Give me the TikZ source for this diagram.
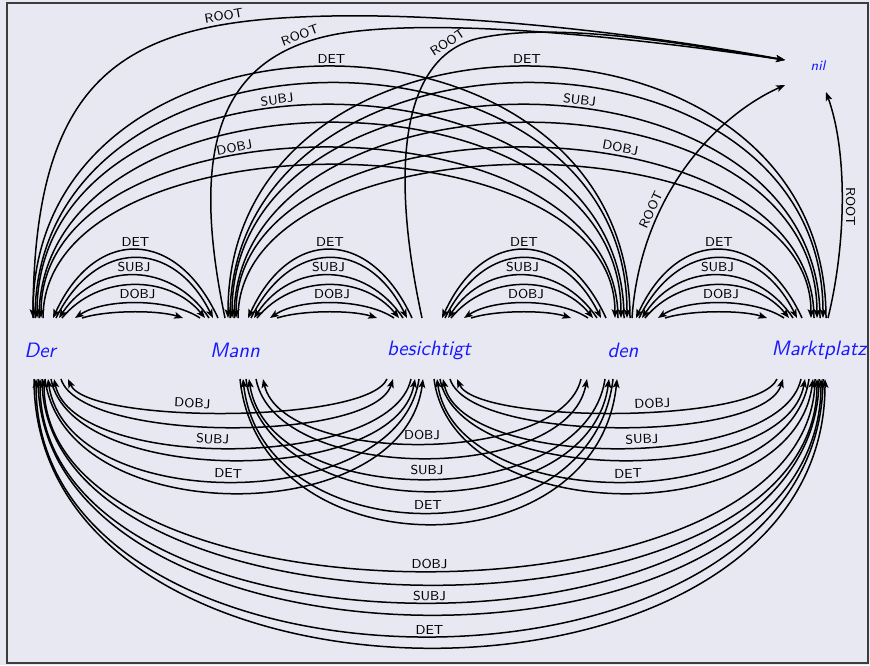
\documentclass[tikz,border=0pt]{standalone}
\usetikzlibrary{arrows.meta,calc}
\definecolor{paper}{RGB}{232,232,242}
\definecolor{wordblue}{RGB}{25,25,255}
\definecolor{framegray}{RGB}{60,60,60}
\begin{document}
\begin{tikzpicture}[x=0.5pt,y=-0.5pt,
  word/.style={font=\fontsize{10.4}{12}\selectfont\sffamily\itshape, text=wordblue, inner sep=0pt},
  rootword/.style={font=\fontsize{7}{8}\selectfont\sffamily\itshape, text=wordblue, inner sep=0pt},
  relfont/.style={font=\fontsize{6.5}{7}\selectfont\sffamily, inner sep=1.5pt},
  rel/.style={relfont, sloped, above},
  dep/.style={line width=0.75pt, black},
  tipR/.style={dep, -{Stealth[length=4.4pt,width=3.4pt,inset=1pt]}},
  tipL/.style={dep, {Stealth[length=4.4pt,width=3.4pt,inset=1pt]}-}]
\useasboundingbox (0,0) rectangle (870,665);
\fill[paper] (0,0) rectangle (870,665);
\draw[framegray, line width=0.8pt] (7,3) rectangle (868,663);

% the sentence and the artificial root
\node[word] (w1) at (40,350) {Der};
\node[word] (w2) at (235,350) {Mann};
\node[word] (w3) at (429,350) {besichtigt};
\node[word] (w4) at (623,350) {den};
\node[word] (w5) at (819,350) {Marktplatz};
\node[rootword] (nil) at (818,66) {nil};

% neighbouring words: both directions, three relations, above the words
\foreach \L/\R in {w1/w2,w2/w3,w3/w4,w4/w5}{
  \foreach \lo/\ro/\hy/\dx/\lab in {13/-17/91/42/DET, 19/-26/57/38/SUBJ, 35/-35/20/30/DOBJ}{
    \draw[tipL] ($(\L)+(\lo,-32)$) .. controls +(\dx,-\hy) and +(-\dx,-\hy) .. ($(\R)+(\ro,-32)$) node[rel,pos=0.5]{\lab};
  }
  \foreach \lo/\ro/\hy/\dx in {16/-22/80/40, 22/-30/44/36, 42/-52/8/25}{
    \draw[tipR] ($(\L)+(\lo,-32)$) .. controls +(\dx,-\hy) and +(-\dx,-\hy) .. ($(\R)+(\ro,-32)$);
  }
}

% words three apart, above the words
\foreach \L/\R/\s in {w1/w4/-1, w2/w5/1}{
  \foreach \lo/\ro/\hy/\lab/\dl in {-7/7/335/DET/0, -3/1/284/SUBJ/0.06, 1/-5/227/DOBJ/0.11}{
    \pgfmathsetmacro\p{0.5+\s*\dl}
    \draw[tipL] ($(\L)+(\lo,-32)$) .. controls +(0,-\hy) and +(0,-\hy) .. ($(\R)+(\ro,-32)$) node[rel,pos=\p]{\lab};
  }
  \foreach \lo/\ro/\hy in {-5/4/313, -1/-2/260, 3/-8/204}{
    \draw[tipR] ($(\L)+(\lo,-32)$) .. controls +(0,-\hy) and +(0,-\hy) .. ($(\R)+(\ro,-32)$);
  }
}

% words two apart, below the words
\foreach \L/\R/\s/\extra in {w1/w3/-1/0, w2/w4/0/31, w3/w5/1/0}{
  \foreach \lo/\ro/\hy/\lab/\dl in {8/-10/137/DET/0.01, 14/-18/92/SUBJ/0.04, 28/-42/45/DOBJ/0.08}{
    \pgfmathsetmacro\p{0.5+\s*\dl}
    \pgfmathsetmacro\hh{\hy+\extra*4/3}
    \draw[tipL] ($(\L)+(\lo,29)$) .. controls +(20,\hh) and +(-20,\hh) .. ($(\R)+(\ro,29)$) node[rel,pos=\p]{\lab};
  }
  \foreach \lo/\ro/\hy in {5/-6/152, 11/-14/108, 21/-36/64}{
    \pgfmathsetmacro\hh{\hy+\extra*4/3}
    \draw[tipR] ($(\L)+(\lo,29)$) .. controls +(20,\hh) and +(-20,\hh) .. ($(\R)+(\ro,29)$);
  }
}

% first and last word, below the words
\foreach \lo/\ro/\hy/\lab in {-4/4/343/DET, 0/0/298/SUBJ, 4/-4/256/DOBJ}{
  \draw[tipL] ($(w1)+(\lo,29)$) .. controls +(0,\hy) and +(0,\hy) .. ($(w5)+(\ro,29)$) node[rel,pos=0.5,yshift=-0.8pt]{\lab};
}
\foreach \lo/\ro/\hy in {-6/6/358, -2/2/314, 2/-2/274}{
  \draw[tipR] ($(w1)+(\lo,29)$) .. controls +(0,\hy) and +(0,\hy) .. ($(w5)+(\ro,29)$);
}

% every word attached to the root
\draw[tipR] ($(w1)+(-7,-32)$) .. controls (33,80) and (120,25) .. (300,17) node[rel,pos=0.85]{ROOT}
  .. controls (450,10) and (650,35) .. ($(nil)+(-33,-6)$);
\draw[tipR] ($(w2)+(-10,-32)$) .. controls (190,150) and (215,50) .. (350,32) node[rel,pos=0.87]{ROOT}
  .. controls (458,18) and (650,40) .. ($(nil)+(-33,-6)$);
\draw[tipR] ($(w3)+(-7,-32)$) .. controls (390,170) and (400,55) .. (480,38) node[rel,pos=0.87]{ROOT}
  .. controls (560,21) and (690,45) .. ($(nil)+(-33,-6)$);
\draw[tipR] ($(w4)+(9,-32)$) .. controls (640,200) and (712,118) .. ($(nil)+(-33,19)$) node[rel,pos=0.33]{ROOT};
\draw[tipR] ($(w5)+(9,-32)$) .. controls (847,240) and (847,150) .. ($(nil)+(8,26)$) node[relfont,pos=0.46,rotate=-90,anchor=south]{ROOT};
\end{tikzpicture}
\end{document}
